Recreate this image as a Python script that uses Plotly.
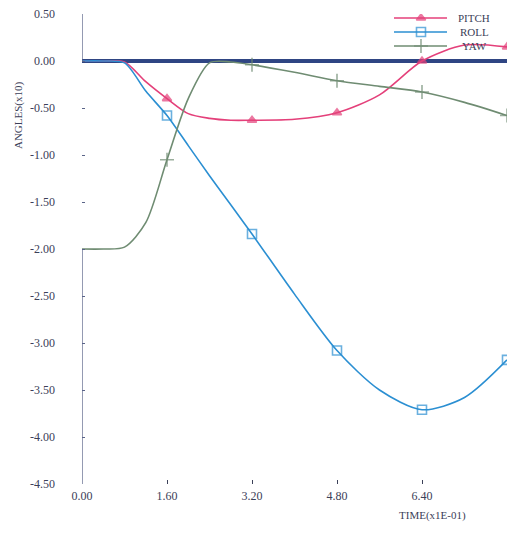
import plotly.graph_objects as go

# Simulation output: attitude angles (x10) against time (x1E-01)
time = [0.0, 0.4, 0.8, 1.2, 1.6, 2.0, 2.4, 2.8, 3.2, 4.0, 4.8, 5.6, 6.4, 7.2, 8.0]
pitch = [0.0, 0.0, -0.01, -0.22, -0.40, -0.56, -0.61, -0.63, -0.63, -0.62, -0.55, -0.36, 0.0, 0.17, 0.15]
roll = [0.0, 0.0, -0.02, -0.32, -0.58, -0.90, -1.22, -1.53, -1.84, -2.48, -3.08, -3.50, -3.71, -3.58, -3.18]
yaw = [-2.0, -2.0, -1.98, -1.72, -1.05, -0.40, -0.02, -0.01, -0.04, -0.12, -0.21, -0.27, -0.33, -0.44, -0.58]

# symbols are plotted only at these sample times
marker_times = [1.6, 3.2, 4.8, 6.4, 8.0]

x_ticks = [0.0, 1.6, 3.2, 4.8, 6.4, 8.0]
x_tick_text = ["0.00", "1.60", "3.20", "4.80", "6.40", "8.00"]
y_ticks = [0.5, 0.0, -0.5, -1.0, -1.5, -2.0, -2.5, -3.0, -3.5, -4.0, -4.5]
y_tick_text = ["0.50", "0.00", "-0.50", "-1.00", "-1.50", "-2.00", "-2.50",
               "-3.00", "-3.50", "-4.00", "-4.50"]

names = ["PITCH", "ROLL", "YAW"]
colors = {"PITCH": "#e4407a", "ROLL": "#2b8fd2", "YAW": "#6f8c72"}
symbols = {"PITCH": "triangle-up", "ROLL": "square-open", "YAW": "cross-thin-open"}
msize = {"PITCH": 8, "ROLL": 9, "YAW": 10}
series = {"PITCH": pitch, "ROLL": roll, "YAW": yaw}

FONT = "Liberation Serif"
INK = "#3b4058"

fig = go.Figure()

for name in names:
    sizes = [msize[name] if t in marker_times else 0 for t in time]
    fig.add_trace(go.Scatter(
        x=time, y=series[name], name=name, mode="lines+markers",
        line=dict(color=colors[name], width=1.6, shape="spline", smoothing=0.8),
        marker=dict(symbol=symbols[name], size=sizes, color=colors[name],
                    line=dict(color=colors[name], width=1.6)),
        showlegend=False,
    ))

# key drawn on a pixel-unit overlay axis (top-right of the plot)
key_rows = {"PITCH": 18, "ROLL": 32, "YAW": 46}
for name in names:
    yk = key_rows[name]
    fig.add_trace(go.Scatter(
        x=[394, 421, 447], y=[yk, yk, yk], mode="lines+markers",
        line=dict(color=colors[name], width=1.6),
        marker=dict(symbol=symbols[name], size=[0, msize[name], 0], color=colors[name],
                    line=dict(color=colors[name], width=1.6)),
        xaxis="x2", yaxis="y2", showlegend=False, hoverinfo="skip",
    ))
    fig.add_annotation(x=474, y=yk, xref="x2", yref="y2", text=name, showarrow=False,
                       font=dict(family=FONT, size=11, color=INK), xanchor="center",
                       yanchor="middle")

# zero reference line and the (broken) vertical axis
fig.add_shape(type="line", x0=0, x1=8.0, y0=0, y1=0, xref="x", yref="y",
              line=dict(color="#2f4583", width=4), layer="below")
fig.add_shape(type="line", x0=0, x1=0, y0=0.5, y1=0.0, xref="x", yref="y",
              line=dict(color="#5a6488", width=1.3))
fig.add_shape(type="line", x0=0, x1=0, y0=-2.0, y1=-4.5, xref="x", yref="y",
              line=dict(color="#5a6488", width=1.3))

fig.add_annotation(x=-0.1506, y=0.785, xref="paper", yref="paper", text="ANGLES(x10)",
                   textangle=-90, showarrow=False, xanchor="center", yanchor="middle",
                   font=dict(family=FONT, size=11, color=INK))
fig.add_annotation(x=0.824, y=-0.066, xref="paper", yref="paper", text="TIME(x1E-01)",
                   showarrow=False, xanchor="center", yanchor="middle",
                   font=dict(family=FONT, size=11, color=INK))

fig.update_layout(
    width=510, height=535,
    margin=dict(l=82, r=3, t=14, b=51),
    paper_bgcolor="white", plot_bgcolor="white",
    font=dict(family=FONT, size=12, color=INK),
    xaxis=dict(range=[0, 8.0], tickvals=x_ticks, ticktext=x_tick_text,
               showgrid=False, zeroline=False, showline=False,
               ticks="inside", ticklen=4, tickcolor=INK, ticklabelstandoff=3),
    yaxis=dict(range=[-4.5, 0.5], tickvals=y_ticks, ticktext=y_tick_text,
               showgrid=False, zeroline=False, showline=False,
               ticks="inside", ticklen=3, tickcolor="#5a6488", ticklabelstandoff=26),
    xaxis2=dict(range=[82, 507], overlaying="x", visible=False, anchor="y2"),
    yaxis2=dict(range=[484, 14], overlaying="y", visible=False, anchor="x2"),
)

fig.write_html("out.html")
